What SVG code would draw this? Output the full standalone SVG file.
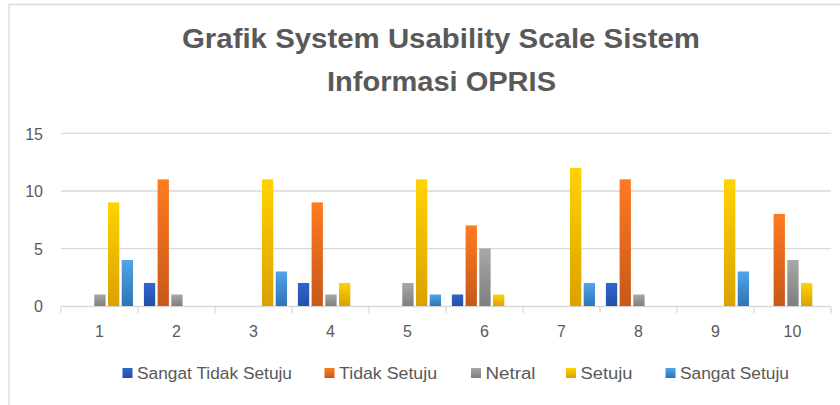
<svg xmlns="http://www.w3.org/2000/svg" width="840" height="405" viewBox="0 0 840 405">
<style>
text{font-family:"Liberation Sans",Arial,sans-serif;fill:#595959}
.title{font-size:27px;font-weight:bold;text-anchor:middle}
.ax{font-size:16px;text-anchor:end}
.cat{font-size:16px;text-anchor:middle}
.leg{font-size:16px}
.grid{stroke:#D9D9D9;stroke-width:1.3;fill:none}
</style>
<defs>
<linearGradient id="gSTS" x1="0" y1="0" x2="0" y2="1"><stop offset="0" stop-color="#3065CF"/><stop offset="1" stop-color="#254FA6"/></linearGradient>
<linearGradient id="gTS" x1="0" y1="0" x2="0" y2="1"><stop offset="0" stop-color="#FF7B1F"/><stop offset="1" stop-color="#C7581A"/></linearGradient>
<linearGradient id="gN" x1="0" y1="0" x2="0" y2="1"><stop offset="0" stop-color="#A8A8A8"/><stop offset="1" stop-color="#7E7E7E"/></linearGradient>
<linearGradient id="gS" x1="0" y1="0" x2="0" y2="1"><stop offset="0" stop-color="#FFD300"/><stop offset="1" stop-color="#DBA100"/></linearGradient>
<linearGradient id="gSS" x1="0" y1="0" x2="0" y2="1"><stop offset="0" stop-color="#50A5EA"/><stop offset="1" stop-color="#2E74B5"/></linearGradient>
</defs>
<rect x="0" y="0" width="840" height="405" fill="#FFFFFF"/>
<path class="grid" d="M9 405V4.5H840"/>
<g id="title">
<text class="title" x="441" y="48" textLength="518" lengthAdjust="spacingAndGlyphs">Grafik System Usability Scale Sistem</text>
<text class="title" x="441.5" y="91" textLength="229" lengthAdjust="spacingAndGlyphs">Informasi OPRIS</text>
</g>
<g id="gridlines">
<path class="grid" d="M61 133.3H831M61 191H831M61 248.7H831"/>
<path class="grid" d="M61 306.5H831M61 306.5V313M138 306.5V313M215 306.5V313M292 306.5V313M369 306.5V313M446 306.5V313M523 306.5V313M600 306.5V313M677 306.5V313M754 306.5V313M831 306.5V313"/>
</g>
<g id="y-axis">
<text class="ax" x="43" y="139.5">15</text>
<text class="ax" x="43" y="197">10</text>
<text class="ax" x="43" y="254.5">5</text>
<text class="ax" x="43" y="312">0</text>
</g>
<g id="x-axis">
<text class="cat" x="99.5" y="337">1</text>
<text class="cat" x="176.5" y="337">2</text>
<text class="cat" x="253.5" y="337">3</text>
<text class="cat" x="330.5" y="337">4</text>
<text class="cat" x="407.5" y="337">5</text>
<text class="cat" x="484.5" y="337">6</text>
<text class="cat" x="561.5" y="337">7</text>
<text class="cat" x="638.5" y="337">8</text>
<text class="cat" x="715.5" y="337">9</text>
<text class="cat" x="792.5" y="337">10</text>
</g>
<g id="series-sangat-tidak-setuju" fill="url(#gSTS)">
<rect x="143.9" y="282.97" width="11.3" height="23.03"/>
<rect x="297.9" y="282.97" width="11.3" height="23.03"/>
<rect x="451.9" y="294.49" width="11.3" height="11.51"/>
<rect x="605.9" y="282.97" width="11.3" height="23.03"/>
</g>
<g id="series-tidak-setuju" fill="url(#gTS)">
<rect x="157.6" y="179.36" width="11.3" height="126.64"/>
<rect x="311.6" y="202.4" width="11.3" height="103.6"/>
<rect x="465.6" y="225.41" width="11.3" height="80.59"/>
<rect x="619.6" y="179.36" width="11.3" height="126.64"/>
<rect x="773.6" y="213.9" width="11.3" height="92.1"/>
</g>
<g id="series-netral" fill="url(#gN)">
<rect x="94.3" y="294.49" width="11.3" height="11.51"/>
<rect x="171.3" y="294.49" width="11.3" height="11.51"/>
<rect x="325.3" y="294.49" width="11.3" height="11.51"/>
<rect x="402.3" y="282.97" width="11.3" height="23.03"/>
<rect x="479.3" y="248.43" width="11.3" height="57.57"/>
<rect x="633.3" y="294.49" width="11.3" height="11.51"/>
<rect x="787.3" y="259.95" width="11.3" height="46.05"/>
</g>
<g id="series-setuju" fill="url(#gS)">
<rect x="108" y="202.4" width="11.3" height="103.6"/>
<rect x="262" y="179.36" width="11.3" height="126.64"/>
<rect x="339" y="282.97" width="11.3" height="23.03"/>
<rect x="416" y="179.36" width="11.3" height="126.64"/>
<rect x="493" y="294.49" width="11.3" height="11.51"/>
<rect x="570" y="167.84" width="11.3" height="138.16"/>
<rect x="724" y="179.36" width="11.3" height="126.64"/>
<rect x="801" y="282.97" width="11.3" height="23.03"/>
</g>
<g id="series-sangat-setuju" fill="url(#gSS)">
<rect x="121.7" y="259.95" width="11.3" height="46.05"/>
<rect x="275.7" y="271.46" width="11.3" height="34.54"/>
<rect x="429.7" y="294.49" width="11.3" height="11.51"/>
<rect x="583.7" y="282.97" width="11.3" height="23.03"/>
<rect x="737.7" y="271.46" width="11.3" height="34.54"/>
</g>
<g id="legend">
<rect x="122.5" y="368" width="10" height="10" fill="url(#gSTS)"/>
<text class="leg" x="137" y="379" textLength="155" lengthAdjust="spacingAndGlyphs">Sangat Tidak Setuju</text>
<rect x="324.5" y="368" width="10" height="10" fill="url(#gTS)"/>
<text class="leg" x="339" y="379" textLength="98" lengthAdjust="spacingAndGlyphs">Tidak Setuju</text>
<rect x="471" y="368" width="10" height="10" fill="url(#gN)"/>
<text class="leg" x="485.5" y="379" textLength="50" lengthAdjust="spacingAndGlyphs">Netral</text>
<rect x="566" y="368" width="10" height="10" fill="url(#gS)"/>
<text class="leg" x="580.5" y="379" textLength="52" lengthAdjust="spacingAndGlyphs">Setuju</text>
<rect x="665.5" y="368" width="10" height="10" fill="url(#gSS)"/>
<text class="leg" x="680" y="379" textLength="109" lengthAdjust="spacingAndGlyphs">Sangat Setuju</text>
</g>
</svg>
